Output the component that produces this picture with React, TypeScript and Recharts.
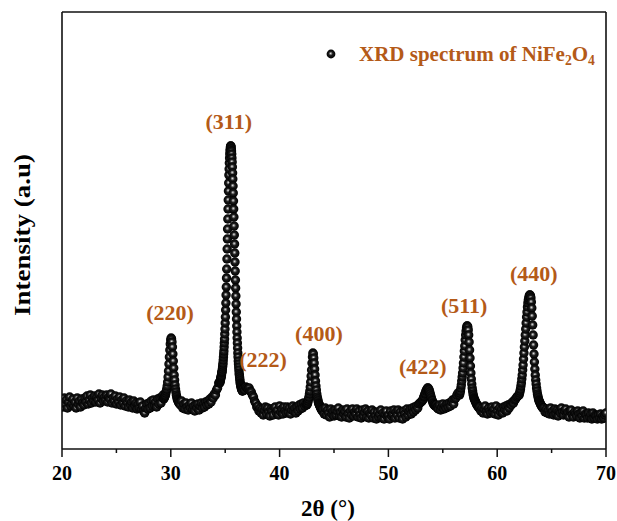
import React from 'react';
import { ScatterChart, Scatter, XAxis, YAxis, ReferenceLine, ReferenceDot, Legend, Label } from 'recharts';

// background stretches, 0.1° step
const bgA = [
  52, 46, 55, 49, 53, 45, 51, 56, 47, 50,
  54, 47, 51, 45, 55, 49, 52, 46, 54, 50,
  48, 55, 51, 57, 49, 53, 58, 50, 55, 52,
  57, 51, 56, 53, 59, 50, 55, 58, 52, 56,
  53, 58, 51, 56, 54, 59, 50, 55, 52, 57,
  49, 54, 51, 56, 48, 53, 50, 55, 47, 52,
  50, 46, 53, 48, 51, 45, 52, 47, 50, 44,
  49, 45, 51, 44, 47, 42, 40, 45, 49, 44,
  50, 45, 52, 47, 53, 48, 51, 46, 54, 49,
  55, 50, 56, 58,
];
const bgB = [
  48, 52, 45, 49, 44, 50, 46, 43, 48, 45,
  50, 44, 47, 42, 48, 45, 49, 43, 47, 50,
  45, 49, 46, 51, 48, 52, 49, 54, 51, 56,
  55, 59, 58, 63, 65, 70,
];
const bgC = [
  62, 64, 63, 66, 65, 64, 65, 62, 61, 58,
  56, 52, 50, 46, 47, 42, 45, 40, 44, 38,
  43, 46, 39, 45, 41, 37, 44, 42, 38, 45,
  46, 40, 43, 38, 47, 41, 44, 39, 46, 42,
  40, 46, 41, 45, 39, 43, 47, 42, 45, 40,
  46, 42, 48, 44, 49, 45, 50, 47, 49,
];
const bgD = [
  44, 39, 45, 38, 43, 40, 36, 44, 39, 42,
  37, 43, 38, 42, 45, 37, 41, 36, 43, 39,
  42, 36, 44, 39, 35, 42, 38, 44, 37, 41,
  39, 44, 36, 42, 38, 35, 43, 37, 41, 44,
  36, 42, 35, 40, 38, 43, 35, 41, 37, 34,
  41, 36, 39, 43, 35, 40, 34, 39, 42, 36,
  38, 34, 42, 37, 39, 43, 35, 41, 38, 43,
  35, 41, 38, 34, 42, 39, 36, 44, 38, 42,
  44, 39, 45, 41, 46, 43, 47, 45, 49, 50,
  51, 52,
];
const bgE = [
  44, 48, 43, 46, 49, 44, 47, 45, 49,
  46, 50, 47, 51, 53, 49, 54, 55, 58, 60,
];
const bgF = [
  46, 42, 45, 40, 44, 47, 41, 39, 45, 42,
  40, 46, 41, 44, 39, 47, 42, 38, 45, 41,
  44, 40, 46, 43, 47, 42, 48, 45, 49, 48,
  51, 50, 53, 54, 56, 57,
];
const bgG = [
  45, 41, 44, 40, 43, 39, 45, 40, 42, 38,
  44, 39, 43, 37, 42, 40, 45, 41, 38, 42,
  44, 38, 41, 36, 42, 43, 38, 36, 41, 39,
  37, 42, 39, 35, 40, 37, 42, 35, 39, 38,
  35, 40, 36, 39, 34, 40, 35, 38, 37, 34,
  38, 35, 39, 34, 37, 35, 38, 40,
];

// peak regions, finer step
const peak220 = [
  54, 55, 56, 57, 58, 60, 62, 64, 67, 71,
  76, 82, 89, 96, 103, 109, 113, 115, 114, 111,
  106, 99, 92, 85, 78, 73, 68, 64, 61, 58,
  56, 54, 53, 52, 51, 50, 50, 49,
];
const peak311 = [
  70, 71, 72, 73, 74, 75, 76, 77, 78, 80,
  81, 82, 84, 86, 88, 90, 93, 96, 99, 102,
  106, 110, 114, 119, 124, 130, 136, 143, 150, 158,
  166, 175, 184, 194, 204, 214, 224, 234, 244, 253,
  262, 270, 278, 284, 290, 295, 299, 302, 304, 306,
  307, 307, 306, 304, 302, 299, 295, 291, 286, 280,
  274, 267, 260, 252, 244, 236, 227, 218, 209, 200,
  191, 182, 173, 165, 157, 149, 141, 134, 127, 121,
  115, 110, 105, 100, 96, 92, 89, 86, 83, 80,
  78, 76, 74, 72, 70, 69, 68, 67, 66, 65,
  64, 64, 63, 63, 62,
];
const peak400 = [
  48, 49, 50, 52, 54, 56, 59, 62, 66, 71,
  77, 83, 90, 96, 100, 99, 95, 90, 84, 78,
  72, 67, 63, 59, 56, 54, 52, 50, 49, 48,
  47, 46, 45, 44, 43, 43, 42, 42,
];
const peak422 = [
  53, 54, 56, 57, 59, 60, 62, 63, 64, 65,
  65, 64, 63, 61, 59, 57, 55, 53, 52, 50,
  49, 48, 48, 47, 47, 48, 46, 45, 46,
];
const peak511 = [
  58, 60, 62, 65, 68, 72, 76, 80, 85, 90,
  96, 102, 107, 113, 118, 122, 125, 127, 127, 126,
  123, 118, 111, 103, 95, 87, 80, 74, 69, 65,
  62, 59, 57, 55, 54, 53, 52, 51, 50, 49,
  48, 48, 47, 46, 46, 45,
];
const peak440 = [
  58, 60, 62, 64, 67, 70, 74, 78, 83, 88,
  94, 100, 106, 112, 118, 124, 130, 136, 141, 146,
  150, 153, 155, 157, 158, 158, 157, 155, 151, 145,
  137, 128, 118, 108, 99, 91, 84, 78, 73, 69,
  65, 62, 59, 57, 55, 53, 52, 51, 50, 49,
  48, 47, 47, 46, 45, 45,
];

// [first 2θ, step, values]
const segments: [number, number, number[]][] = [
  [20.0, 0.1, bgA],
  [29.35, 0.04, peak220],
  [30.9, 0.1, bgB],
  [34.5, 0.02, peak311],
  [36.6, 0.1, bgC],
  [42.5, 0.04, peak400],
  [44.0, 0.1, bgD],
  [53.15, 0.05, peak422],
  [54.6, 0.1, bgE],
  [56.54, 0.04, peak511],
  [58.4, 0.1, bgF],
  [62.02, 0.04, peak440],
  [64.3, 0.1, bgG],
];

const hklLabels = ['(220)', '(311)', '(222)', '(400)', '(422)', '(511)', '(440)'];
const hklTwoTheta = [30.03, 35.51, 37.0, 43.06, 53.62, 57.24, 63.0];
const hklIntensity = [115, 307, 65, 100, 65, 127, 158];
const labelShift = [[-1, -26], [-2, -25], [16, -29], [6, -20], [-5, -22], [-3, -21], [4, -22]];

const xTicks = [20, 25, 30, 35, 40, 45, 50, 55, 60, 65, 70];

const scan = segments.flatMap(([start, step, values]) =>
  values.map((v, i) => ({ x: +(start + i * step).toFixed(3), y: v }))
);

const SERIF = "'Liberation Serif', 'Times New Roman', serif";
const BROWN = '#b45a18';
const INK = '#111';

const Ball = (props: any) => (
  <circle cx={props.cx} cy={props.cy} r={4.7} fill="url(#xrdBall)" />
);

const XTick = ({ x, y, payload }: any) => {
  const major = payload.value % 10 === 0;
  return (
    <g>
      <line x1={x} x2={x} y1={y} y2={y + (major ? 8 : 4)} stroke={INK} strokeWidth={1.5} />
      {major && (
        <text x={x} y={y + 31} textAnchor="middle" fontFamily={SERIF} fontWeight="bold" fontSize={20} fill="#000">
          {payload.value}
        </text>
      )}
    </g>
  );
};

const LegendBox = () => (
  <div style={{ display: 'flex', alignItems: 'center', fontFamily: SERIF, fontWeight: 700, fontSize: 21, color: BROWN, whiteSpace: 'nowrap', lineHeight: '24px' }}>
    <svg width={18} height={18}>
      <circle cx={9} cy={9} r={4.4} fill="url(#xrdBall)" />
    </svg>
    <span style={{ marginLeft: 19 }}>
      XRD spectrum of NiFe
      <sub style={{ fontSize: '0.65em', verticalAlign: '-0.3em', lineHeight: 0 }}>2</sub>
      O
      <sub style={{ fontSize: '0.65em', verticalAlign: '-0.3em', lineHeight: 0 }}>4</sub>
    </span>
  </div>
);

export default function App() {
  return (
    <div style={{ position: 'absolute', left: 0, top: 0, width: 617, height: 521, background: '#fff' }}>
      <svg width={0} height={0} style={{ position: 'absolute' }}>
        <defs>
          <radialGradient id="xrdBall" cx="50%" cy="50%" r="50%" fx="45%" fy="42%">
            <stop offset="0%" stopColor="#f4f4f4" />
            <stop offset="16%" stopColor="#9a9a9a" />
            <stop offset="45%" stopColor="#1c1c1c" />
            <stop offset="100%" stopColor="#000000" />
          </radialGradient>
        </defs>
      </svg>
      <ScatterChart width={617} height={521} margin={{ top: 12, right: 11, bottom: 0, left: 0 }}>
        <XAxis
          type="number"
          dataKey="x"
          domain={[20, 70]}
          ticks={xTicks}
          interval={0}
          allowDataOverflow
          height={72}
          tickSize={0}
          tickMargin={0}
          tickLine={false}
          axisLine={{ stroke: INK, strokeWidth: 1.6 }}
          tick={(p: any) => <XTick {...p} />}
        >
          <Label
            content={() => (
              <text x={328} y={516} textAnchor="middle" fontFamily={SERIF} fontWeight="bold" fontSize={23} fill="#000">
                2θ (°)
              </text>
            )}
          />
        </XAxis>
        <YAxis
          type="number"
          dataKey="y"
          domain={[4, 441]}
          allowDataOverflow
          width={62}
          tick={false}
          tickLine={false}
          axisLine={{ stroke: INK, strokeWidth: 1.6 }}
        >
          <Label
            content={() => (
              <text
                x={22}
                y={235}
                transform="rotate(-90 22 235)"
                textAnchor="middle"
                dominantBaseline="central"
                fontFamily={SERIF}
                fontWeight="bold"
                fontSize={23}
                textLength={162}
                lengthAdjust="spacingAndGlyphs"
                fill="#000"
              >
                Intensity (a.u)
              </text>
            )}
          />
        </YAxis>
        <ReferenceLine y={441} stroke={INK} strokeWidth={1.6} />
        <ReferenceLine x={70} stroke={INK} strokeWidth={1.6} />
        <Scatter name="XRD" data={scan} isAnimationActive={false} shape={Ball} />
        {hklLabels.map((lbl, i) => (
          <ReferenceDot
            key={lbl}
            x={hklTwoTheta[i]}
            y={hklIntensity[i]}
            r={0}
            shape={(p: any) => (
              <text
                x={p.cx + labelShift[i][0]}
                y={p.cy + labelShift[i][1]}
                textAnchor="middle"
                dominantBaseline="central"
                fontFamily={SERIF}
                fontWeight="bold"
                fontSize={22}
                fill={BROWN}
              >
                {lbl}
              </text>
            )}
          />
        ))}
        <Legend
          layout="vertical"
          align="center"
          verticalAlign="middle"
          wrapperStyle={{ left: 322, top: 42, width: 290, height: 24 }}
          content={() => <LegendBox />}
        />
      </ScatterChart>
    </div>
  );
}
